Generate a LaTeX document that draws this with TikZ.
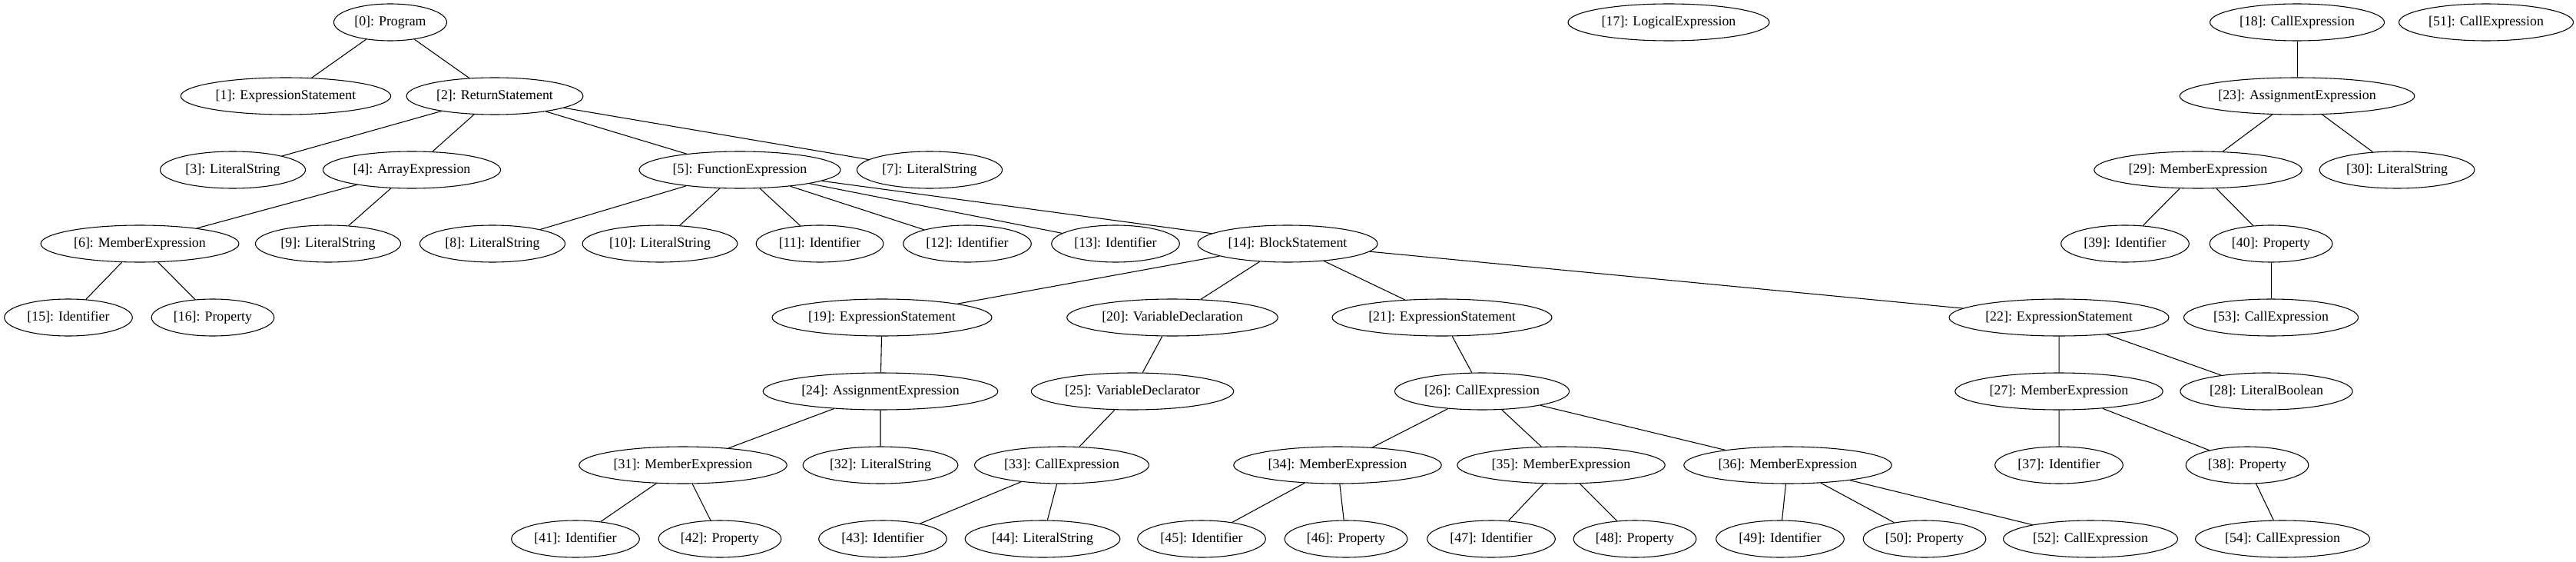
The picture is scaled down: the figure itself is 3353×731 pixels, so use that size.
\documentclass[tikz,border=0pt]{standalone}
\usepackage{fontspec}
\setmainfont{Liberation Serif}
\usepackage{tikz}
\usetikzlibrary{shapes.geometric}
\tikzset{astnode/.style={draw, ellipse, line width=0.8pt, inner xsep=4pt, inner ysep=1pt, minimum height=36pt, text height=9pt, text depth=2.5pt, font=\fontsize{13.4}{16}\selectfont}}
\tikzset{astedge/.style={line width=0.8pt}}

\begin{document}
\begin{tikzpicture}[x=0.75pt, y=-0.75pt]
	\useasboundingbox (0,0) rectangle (3353,731);
	% rank 0
	\node [astnode] (n0) at (508,29) {[0]: Program};
	\node [astnode] (n17) at (2172,29) {[17]: LogicalExpression};
	\node [astnode] (n18) at (2990,29) {[18]: CallExpression};
	\node [astnode] (n51) at (3236,29) {[51]: CallExpression};
	% rank 1
	\node [astnode] (n1) at (372,125) {[1]: ExpressionStatement};
	\node [astnode] (n2) at (644,125) {[2]: ReturnStatement};
	\node [astnode] (n23) at (2990,125) {[23]: AssignmentExpression};
	% rank 2
	\node [astnode] (n3) at (303,221) {[3]: LiteralString};
	\node [astnode] (n4) at (536,221) {[4]: ArrayExpression};
	\node [astnode] (n5) at (963,221) {[5]: FunctionExpression};
	\node [astnode] (n7) at (1210,221) {[7]: LiteralString};
	\node [astnode] (n29) at (2861,221) {[29]: MemberExpression};
	\node [astnode] (n30) at (3120,221) {[30]: LiteralString};
	% rank 3
	\node [astnode] (n6) at (182,317) {[6]: MemberExpression};
	\node [astnode] (n9) at (427,317) {[9]: LiteralString};
	\node [astnode] (n8) at (641,317) {[8]: LiteralString};
	\node [astnode] (n10) at (859,317) {[10]: LiteralString};
	\node [astnode] (n11) at (1067,317) {[11]: Identifier};
	\node [astnode] (n12) at (1259,317) {[12]: Identifier};
	\node [astnode] (n13) at (1452,317) {[13]: Identifier};
	\node [astnode] (n14) at (1676,317) {[14]: BlockStatement};
	\node [astnode] (n39) at (2766,317) {[39]: Identifier};
	\node [astnode] (n40) at (2956,317) {[40]: Property};
	% rank 4
	\node [astnode] (n15) at (89,413) {[15]: Identifier};
	\node [astnode] (n16) at (277,413) {[16]: Property};
	\node [astnode] (n19) at (1148,413) {[19]: ExpressionStatement};
	\node [astnode] (n20) at (1526,413) {[20]: VariableDeclaration};
	\node [astnode] (n21) at (1877,413) {[21]: ExpressionStatement};
	\node [astnode] (n22) at (2680,413) {[22]: ExpressionStatement};
	\node [astnode] (n53) at (2956,413) {[53]: CallExpression};
	% rank 5
	\node [astnode] (n24) at (1146,509) {[24]: AssignmentExpression};
	\node [astnode] (n25) at (1474,509) {[25]: VariableDeclarator};
	\node [astnode] (n26) at (1929,509) {[26]: CallExpression};
	\node [astnode] (n27) at (2680,509) {[27]: MemberExpression};
	\node [astnode] (n28) at (2950,509) {[28]: LiteralBoolean};
	% rank 6
	\node [astnode] (n31) at (889,605) {[31]: MemberExpression};
	\node [astnode] (n32) at (1146,605) {[32]: LiteralString};
	\node [astnode] (n33) at (1382,605) {[33]: CallExpression};
	\node [astnode] (n34) at (1741,605) {[34]: MemberExpression};
	\node [astnode] (n35) at (2032,605) {[35]: MemberExpression};
	\node [astnode] (n36) at (2327,605) {[36]: MemberExpression};
	\node [astnode] (n37) at (2680,605) {[37]: Identifier};
	\node [astnode] (n38) at (2925,605) {[38]: Property};
	% rank 7
	\node [astnode] (n41) at (749,701) {[41]: Identifier};
	\node [astnode] (n42) at (937,701) {[42]: Property};
	\node [astnode] (n43) at (1149,701) {[43]: Identifier};
	\node [astnode] (n44) at (1357,701) {[44]: LiteralString};
	\node [astnode] (n45) at (1564,701) {[45]: Identifier};
	\node [astnode] (n46) at (1752,701) {[46]: Property};
	\node [astnode] (n47) at (1941,701) {[47]: Identifier};
	\node [astnode] (n48) at (2128,701) {[48]: Property};
	\node [astnode] (n49) at (2317,701) {[49]: Identifier};
	\node [astnode] (n50) at (2505,701) {[50]: Property};
	\node [astnode] (n52) at (2721,701) {[52]: CallExpression};
	\node [astnode] (n54) at (2971,701) {[54]: CallExpression};
	% edges
	\draw [astedge] (n0) -- (n1) (n0) -- (n2);
	\draw [astedge] (n2) -- (n3) (n2) -- (n4) (n2) -- (n5) (n2) -- (n7);
	\draw [astedge] (n4) -- (n6) (n4) -- (n9);
	\draw [astedge] (n6) -- (n15) (n6) -- (n16);
	\draw [astedge] (n5) -- (n8) (n5) -- (n10) (n5) -- (n11) (n5) -- (n12) (n5) -- (n13) (n5) -- (n14);
	\draw [astedge] (n14) -- (n19) (n14) -- (n20) (n14) -- (n21) (n14) -- (n22);
	\draw [astedge] (n19) -- (n24);
	\draw [astedge] (n24) -- (n31) (n24) -- (n32);
	\draw [astedge] (n31) -- (n41) (n31) -- (n42);
	\draw [astedge] (n20) -- (n25);
	\draw [astedge] (n25) -- (n33);
	\draw [astedge] (n33) -- (n43) (n33) -- (n44);
	\draw [astedge] (n21) -- (n26);
	\draw [astedge] (n26) -- (n34) (n26) -- (n35) (n26) -- (n36);
	\draw [astedge] (n34) -- (n45) (n34) -- (n46);
	\draw [astedge] (n35) -- (n47) (n35) -- (n48);
	\draw [astedge] (n36) -- (n49) (n36) -- (n50) (n36) -- (n52);
	\draw [astedge] (n22) -- (n27) (n22) -- (n28);
	\draw [astedge] (n27) -- (n37) (n27) -- (n38);
	\draw [astedge] (n38) -- (n54);
	\draw [astedge] (n18) -- (n23);
	\draw [astedge] (n23) -- (n29) (n23) -- (n30);
	\draw [astedge] (n29) -- (n39) (n29) -- (n40);
	\draw [astedge] (n40) -- (n53);
\end{tikzpicture}
\end{document}
